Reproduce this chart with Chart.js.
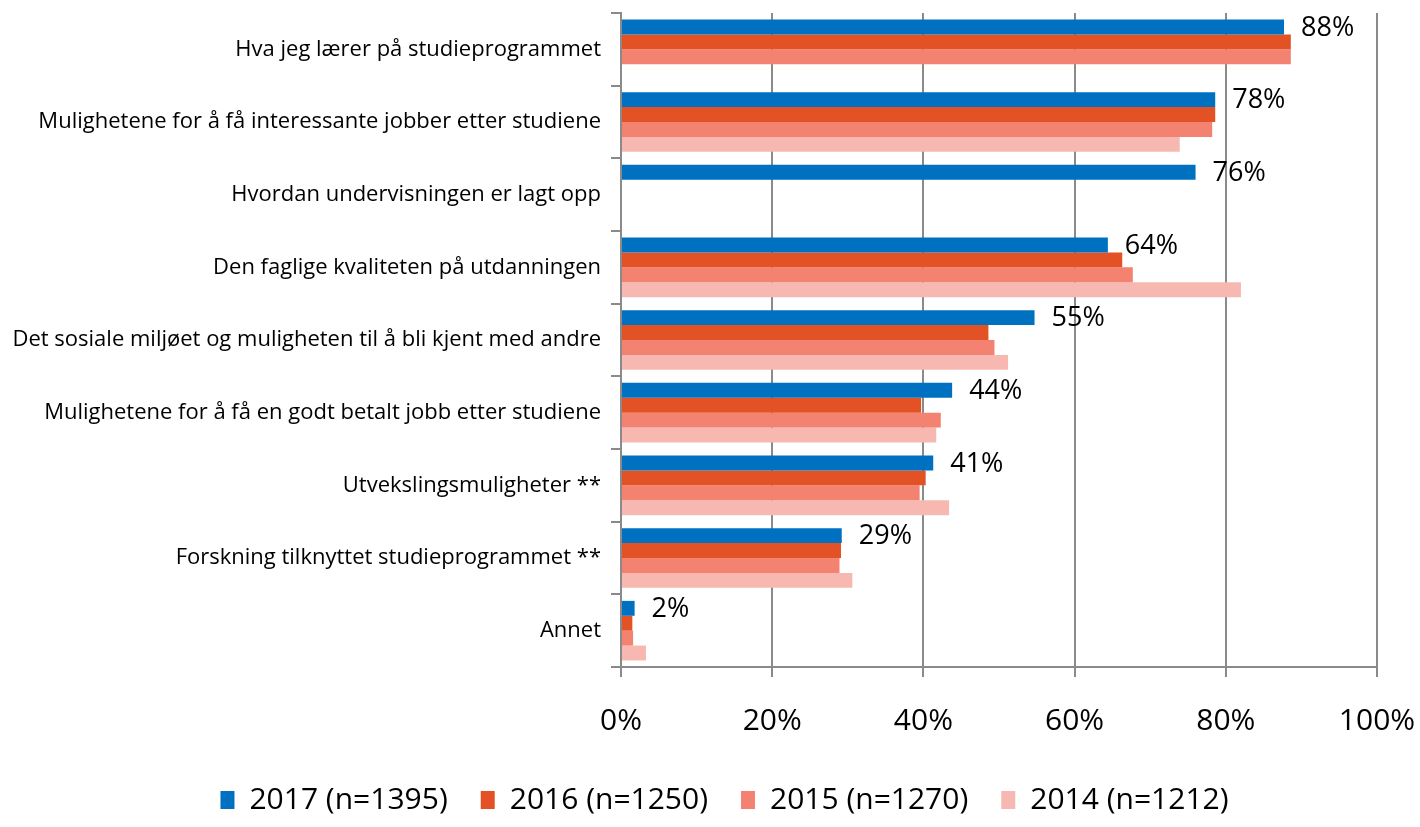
<!DOCTYPE html>
<html lang="no">
<head>
<meta charset="UTF-8">
<title>Hva er viktig</title>
<script src="https://cdn.jsdelivr.net/npm/chart.js@4.4.1/dist/chart.umd.min.js"></script>
<style>
  html, body { margin: 0; padding: 0; background: #fff; }
  #wrap { width: 1420px; height: 827px; position: relative; }
</style>
</head>
<body>
<div id="wrap"><canvas id="myChart" width="1420" height="827"></canvas></div>
<script>
const categories = [
  'Hva jeg lærer på studieprogrammet',
  'Mulighetene for å få interessante jobber etter studiene',
  'Hvordan undervisningen er lagt opp',
  'Den faglige kvaliteten på utdanningen',
  'Det sosiale miljøet og muligheten til å bli kjent med andre',
  'Mulighetene for å få en godt betalt jobb etter studiene',
  'Utvekslingsmuligheter **',
  'Forskning tilknyttet studieprogrammet **',
  'Annet'
];
const seriesNames = ['2017 (n=1395)', '2016 (n=1250)', '2015 (n=1270)', '2014 (n=1212)'];
const v2017 = [87.7, 78.6, 76.0, 64.4, 54.7, 43.8, 41.3, 29.2, 1.8];
const v2016 = [88.6, 78.6, null, 66.3, 48.6, 39.7, 40.3, 29.1, 1.5];
const v2015 = [88.6, 78.2, null, 67.7, 49.4, 42.3, 39.5, 28.9, 1.6];
const v2014 = [null, 73.9, null, 82.0, 51.2, 41.7, 43.4, 30.6, 3.3];
const labels2017 = ['88%', '78%', '76%', '64%', '55%', '44%', '41%', '29%', '2%'];
const xTicks = [0, 20, 40, 60, 80, 100];

const colors = ['#0070C0', '#E35224', '#F48270', '#F6B8B0'];
const fontFam = '"Open Sans", "DejaVu Sans", sans-serif';
const gridGray = '#8a8a8a';

// value labels, only for 2017
const valueLabels = {
  id: 'valueLabels',
  afterLayout(chart) {
    // legend sits a bit right of centre in the original
    chart.legend.left += 72;
  },
  afterDatasetsDraw(chart) {
    const ctx = chart.ctx;
    const meta = chart.getDatasetMeta(0);
    ctx.save();
    ctx.font = '27px ' + fontFam;
    ctx.fillStyle = '#000';
    ctx.textAlign = 'left';
    ctx.textBaseline = 'middle';
    meta.data.forEach((bar, i) => {
      ctx.fillText(labels2017[i], bar.x + 17, bar.y + 1);
    });
    ctx.restore();
  }
};

const ctx = document.getElementById('myChart').getContext('2d');
const myChart = new Chart(ctx, {
  type: 'bar',
  data: {
    labels: categories,
    datasets: [
      { label: seriesNames[0], data: v2017, backgroundColor: colors[0] },
      { label: seriesNames[1], data: v2016, backgroundColor: colors[1] },
      { label: seriesNames[2], data: v2015, backgroundColor: colors[2] },
      { label: seriesNames[3], data: v2014, backgroundColor: colors[3] }
    ]
  },
  options: {
    indexAxis: 'y',
    responsive: false,
    animation: false,
    devicePixelRatio: 1,
    categoryPercentage: 0.82,
    barPercentage: 1.0,
    layout: { padding: { top: 13, right: 43, bottom: 2, left: 0 } },
    scales: {
      x: {
        min: 0,
        max: 100,
        afterBuildTicks(scale) { scale.ticks = xTicks.map(v => ({ value: v })); },
        ticks: {
          callback: v => v + '%',
          color: '#000',
          font: { family: fontFam, size: 30 },
          padding: 26,
          maxRotation: 0
        },
        grid: { color: gridGray, lineWidth: 2, tickLength: 10, drawOnChartArea: true },
        border: { display: true, color: gridGray, width: 2 },
        afterFit(scale) {
          scale.height = 85;
          scale.paddingLeft = 0;
          scale.paddingRight = 0;
        }
      },
      y: {
        ticks: {
          color: '#000',
          font: { family: fontFam, size: 22 },
          padding: 10,
          autoSkip: false
        },
        grid: { offset: true, drawOnChartArea: false, color: gridGray, lineWidth: 2, tickLength: 10 },
        border: { display: true, color: gridGray, width: 2 },
        afterFit(scale) {
          scale.width = 621;
          scale.paddingTop = 0;
          scale.paddingBottom = 0;
        }
      }
    },
    plugins: {
      legend: {
        position: 'bottom',
        labels: {
          color: '#000',
          font: { family: fontFam, size: 30 },
          boxWidth: 14,
          boxHeight: 18,
          padding: 33
        }
      },
      tooltip: { enabled: false }
    }
  },
  plugins: [valueLabels]
});
</script>
</body>
</html>
